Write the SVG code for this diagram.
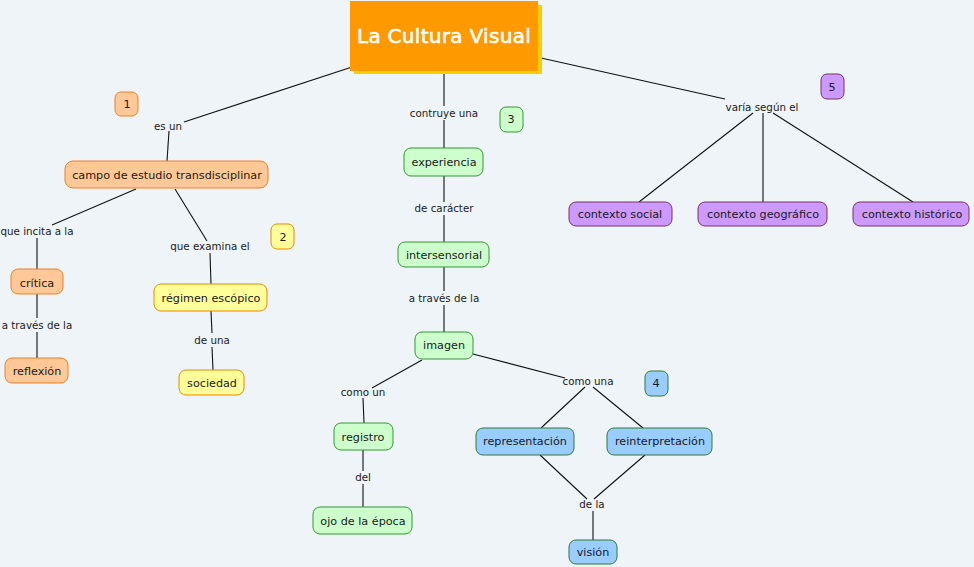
<svg xmlns="http://www.w3.org/2000/svg" width="974" height="567" viewBox="0 0 974 567">
<style>
text{font-family:"DejaVu Sans","Liberation Sans",sans-serif;font-size:11.2px;fill:#1a1a1a;text-anchor:middle;dominant-baseline:central}
.lbl{font-size:10.3px}
.n rect{stroke-width:1}
.or rect{fill:#ffc896;stroke:#e6822d}
.ye rect{fill:#ffff99;stroke:#e68a00}
.gr rect{fill:#ccffcc;stroke:#339933}
.bl rect{fill:#99ccff;stroke:#2e7d32}
.pu rect{fill:#cc99ff;stroke:#7a3060}
#conn line{stroke:#111;stroke-width:1.1}
.title{font-size:20px;fill:#fff;stroke:#fff;stroke-width:0.6;letter-spacing:0.3px}
</style>
<rect width="974" height="567" fill="#eef4f7"/>
<g id="conn">
<line x1="352" y1="67" x2="184" y2="122"/>
<line x1="169" y1="131" x2="167" y2="161"/>
<line x1="136" y1="189" x2="52" y2="225"/>
<line x1="37" y1="238" x2="37" y2="269"/>
<line x1="37" y1="294" x2="37" y2="318"/>
<line x1="37" y1="332" x2="37" y2="358"/>
<line x1="175" y1="189" x2="207" y2="241"/>
<line x1="210" y1="253" x2="211" y2="284"/>
<line x1="211" y1="311" x2="212" y2="333"/>
<line x1="212" y1="347" x2="213" y2="370"/>
<line x1="444" y1="74" x2="444" y2="106"/>
<line x1="444" y1="120" x2="444" y2="148"/>
<line x1="444" y1="176" x2="444" y2="202"/>
<line x1="444" y1="215" x2="444" y2="242"/>
<line x1="444" y1="267" x2="444" y2="291"/>
<line x1="444" y1="305" x2="444" y2="332"/>
<line x1="473" y1="354" x2="565" y2="378"/>
<line x1="585" y1="387" x2="541" y2="428"/>
<line x1="593" y1="387" x2="643" y2="428"/>
<line x1="540" y1="455" x2="587" y2="499"/>
<line x1="645" y1="455" x2="594" y2="499"/>
<line x1="593" y1="511" x2="593" y2="540"/>
<line x1="422" y1="360" x2="372" y2="388"/>
<line x1="363" y1="398" x2="364" y2="423"/>
<line x1="363" y1="450" x2="363" y2="471"/>
<line x1="363" y1="484" x2="363" y2="507"/>
<line x1="541" y1="58" x2="725" y2="99"/>
<line x1="753" y1="113" x2="639" y2="202"/>
<line x1="763" y1="113" x2="763" y2="202"/>
<line x1="773" y1="113" x2="913" y2="202"/>
</g>
<g id="labels">
<text class="lbl" x="168" y="126">es un</text>
<text class="lbl" x="37" y="231">que incita a la</text>
<text class="lbl" x="37" y="325">a través de la</text>
<text class="lbl" x="210" y="246">que examina el</text>
<text class="lbl" x="212" y="340">de una</text>
<text class="lbl" x="444" y="113">contruye una</text>
<text class="lbl" x="444" y="208">de carácter</text>
<text class="lbl" x="444" y="298">a través de la</text>
<text class="lbl" x="363" y="392">como un</text>
<text class="lbl" x="363" y="477">del</text>
<text class="lbl" x="588" y="381">como una</text>
<text class="lbl" x="592" y="504">de la</text>
<text class="lbl" x="762" y="107">varía según el</text>
</g>
<g id="title">
<rect x="354" y="5" width="188" height="69" fill="#ffcc00"/>
<rect x="350" y="1" width="188" height="70" fill="#ff9900"/>
<text class="title" x="444" y="36">La Cultura Visual</text>
</g>
<g id="n-campo" class="n or"><rect x="65" y="161" width="203" height="27" rx="8"/><text x="167" y="175">campo de estudio transdisciplinar</text></g>
<g id="n-critica" class="n or"><rect x="11" y="269" width="52" height="25" rx="7"/><text x="37" y="283">crítica</text></g>
<g id="n-reflexion" class="n or"><rect x="5" y="358" width="63" height="25" rx="7"/><text x="37" y="371">reflexión</text></g>
<g id="n-regimen" class="n ye"><rect x="154" y="284" width="113" height="27" rx="7"/><text x="211" y="298">régimen escópico</text></g>
<g id="n-sociedad" class="n ye"><rect x="179" y="370" width="65" height="25" rx="7"/><text x="212" y="383">sociedad</text></g>
<g id="n-experiencia" class="n gr"><rect x="404" y="148" width="79" height="28" rx="7"/><text x="444" y="162">experiencia</text></g>
<g id="n-intersensorial" class="n gr"><rect x="398" y="242" width="91" height="25" rx="7"/><text x="444" y="255">intersensorial</text></g>
<g id="n-imagen" class="n gr"><rect x="415" y="332" width="58" height="27" rx="7"/><text x="444" y="345">imagen</text></g>
<g id="n-registro" class="n gr"><rect x="334" y="423" width="59" height="27" rx="7"/><text x="363" y="437">registro</text></g>
<g id="n-ojo" class="n gr"><rect x="313" y="507" width="99" height="27" rx="7"/><text x="363" y="521">ojo de la época</text></g>
<g id="n-representacion" class="n bl"><rect x="476" y="428" width="98" height="27" rx="7"/><text x="525" y="441">representación</text></g>
<g id="n-reinterpretacion" class="n bl"><rect x="607" y="428" width="105" height="27" rx="7"/><text x="660" y="441">reinterpretación</text></g>
<g id="n-vision" class="n bl"><rect x="569" y="540" width="48" height="24" rx="7"/><text x="593" y="552">visión</text></g>
<g id="n-social" class="n pu"><rect x="569" y="202" width="103" height="24" rx="7"/><text x="620" y="214">contexto social</text></g>
<g id="n-geografico" class="n pu"><rect x="698" y="202" width="129" height="24" rx="7"/><text x="763" y="214">contexto geográfico</text></g>
<g id="n-historico" class="n pu"><rect x="853" y="202" width="116" height="24" rx="7"/><text x="912" y="214">contexto histórico</text></g>
<g id="b1" class="n or"><rect x="115" y="92" width="23" height="24" rx="6"/><text x="127" y="104">1</text></g>
<g id="b2" class="n ye"><rect x="271" y="224" width="23" height="25" rx="6"/><text x="283" y="237">2</text></g>
<g id="b3" class="n gr"><rect x="500" y="107" width="23" height="25" rx="6"/><text x="511" y="119">3</text></g>
<g id="b4" class="n bl"><rect x="645" y="371" width="23" height="25" rx="6"/><text x="656" y="383">4</text></g>
<g id="b5" class="n pu"><rect x="821" y="74" width="23" height="25" rx="6"/><text x="832" y="87">5</text></g>
</svg>
